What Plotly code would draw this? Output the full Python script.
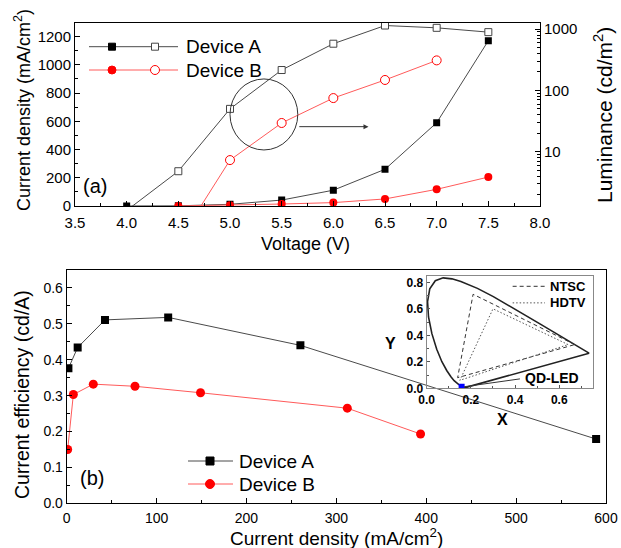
import plotly.graph_objects as go

W, H = 621, 548
FONT = "Arial, Liberation Sans, sans-serif"


def px(x):
    return x / W


def py(y):
    return 1 - y / H


# ---------------- panel (a): J-V and L-V ----------------
volt_a = [4.0, 4.5, 5.0, 5.5, 6.0, 6.5, 7.0, 7.5]
jdens_a = [0.3, 1.3, 12, 42, 112, 260, 590, 1171]
volt_b = [4.5, 5.0, 5.5, 6.0, 6.5, 7.0, 7.5]
jdens_b = [0.3, 5, 14, 24, 50, 118, 205]

lum_volt_a = [4.0, 4.5, 5.0, 5.5, 6.0, 6.5, 7.0, 7.5]
lum_a = [1.1, 4.8, 50, 215, 578, 1145, 1050, 893]
lum_volt_b = [4.5, 5.0, 5.5, 6.0, 6.5, 7.0]
lum_b = [0.34, 7.3, 29.4, 75, 148, 309]

# ---------------- panel (b): efficiency vs current density ----------------
eff_j_a = [1.9, 12.2, 42.6, 112.9, 260, 589]
eff_a = [0.376, 0.434, 0.511, 0.518, 0.440, 0.179]
eff_j_b = [1.1, 7.4, 29.6, 76, 148.9, 312.2, 393.7]
eff_b = [0.150, 0.303, 0.332, 0.326, 0.308, 0.265, 0.193]

# ---------------- inset: CIE 1931 chromaticity ----------------
locus_x = [0.1741, 0.1738, 0.1733, 0.1726, 0.1714, 0.1689, 0.1644, 0.1566, 0.1440,
           0.1241, 0.1096, 0.0913, 0.0687, 0.0454, 0.0235, 0.0082, 0.0039, 0.0139,
           0.0389, 0.0743, 0.1142, 0.1547, 0.2296, 0.3016, 0.3731, 0.4441, 0.5125,
           0.5752, 0.6270, 0.6658, 0.6915, 0.7079, 0.7190, 0.7260, 0.7300, 0.7334,
           0.7347, 0.1741]
locus_y = [0.0050, 0.0049, 0.0048, 0.0048, 0.0051, 0.0069, 0.0109, 0.0177, 0.0297,
           0.0578, 0.0868, 0.1327, 0.2007, 0.2950, 0.4127, 0.5384, 0.6548, 0.7502,
           0.8120, 0.8338, 0.8262, 0.8059, 0.7543, 0.6923, 0.6245, 0.5547, 0.4866,
           0.4242, 0.3725, 0.3340, 0.3083, 0.2920, 0.2809, 0.2740, 0.2700, 0.2666,
           0.2653, 0.0050]
ntsc_x = [0.67, 0.21, 0.14, 0.67]
ntsc_y = [0.33, 0.71, 0.08, 0.33]
hdtv_x = [0.64, 0.30, 0.15, 0.64]
hdtv_y = [0.33, 0.60, 0.06, 0.33]
qd_x = [0.158]
qd_y = [0.012]

BLACK_LINE = "#4a4a4a"
RED = "#ff0000"
RED_LINE = "#ff5a5a"
NTSC_DASH = "4px,3px"
HDTV_DASH = "1.5px,2px"

fig = go.Figure()

# J-V curves (left axis)
fig.add_trace(go.Scatter(x=volt_a, y=jdens_a, mode="lines+markers", xaxis="x", yaxis="y",
                         line=dict(color=BLACK_LINE, width=1),
                         marker=dict(symbol="square", size=7, color="black")))
fig.add_trace(go.Scatter(x=volt_b, y=jdens_b, mode="lines+markers", xaxis="x", yaxis="y",
                         line=dict(color=RED_LINE, width=1),
                         marker=dict(symbol="circle", size=8, color=RED)))
# L-V curves (right log axis)
fig.add_trace(go.Scatter(x=lum_volt_a, y=lum_a, mode="lines+markers", xaxis="x", yaxis="y2",
                         line=dict(color=BLACK_LINE, width=1),
                         marker=dict(symbol="square", size=7, color="white",
                                     line=dict(color="#444", width=1))))
fig.add_trace(go.Scatter(x=lum_volt_b, y=lum_b, mode="lines+markers", xaxis="x", yaxis="y2",
                         line=dict(color=RED_LINE, width=1),
                         marker=dict(symbol="circle", size=9, color="white",
                                     line=dict(color=RED, width=1))))

# efficiency curves
fig.add_trace(go.Scatter(x=eff_j_a, y=eff_a, mode="lines+markers", xaxis="x2", yaxis="y3",
                         line=dict(color=BLACK_LINE, width=1),
                         marker=dict(symbol="square", size=8, color="black")))
fig.add_trace(go.Scatter(x=eff_j_b, y=eff_b, mode="lines+markers", xaxis="x2", yaxis="y3",
                         line=dict(color=RED_LINE, width=1),
                         marker=dict(symbol="circle", size=9, color=RED)))

# CIE inset
fig.add_trace(go.Scatter(x=locus_x, y=locus_y, mode="lines", xaxis="x3", yaxis="y4",
                         line=dict(color="#222", width=1.6)))
fig.add_trace(go.Scatter(x=ntsc_x, y=ntsc_y, mode="lines", xaxis="x3", yaxis="y4",
                         line=dict(color="#333", width=1, dash=NTSC_DASH)))
fig.add_trace(go.Scatter(x=hdtv_x, y=hdtv_y, mode="lines", xaxis="x3", yaxis="y4",
                         line=dict(color="#555", width=1, dash=HDTV_DASH)))
fig.add_trace(go.Scatter(x=qd_x, y=qd_y, mode="markers", xaxis="x3", yaxis="y4",
                         marker=dict(symbol="square", size=6, color="#0000ff")))

tick_font = dict(family=FONT, size=15, color="black")
tick_font_b = dict(family=FONT, size=14, color="black")
inset_tick_font = dict(family=FONT, size=12, color="black", weight="bold")

common = dict(showgrid=False, zeroline=False, showline=True, linecolor="black", linewidth=1,
              ticks="inside", tickcolor="black", ticklen=5, automargin=False)

lum_minor = [m * 10 ** e for e in range(0, 4) for m in range(2, 10)]

fig.update_layout(
    width=W, height=H,
    margin=dict(l=0, r=0, t=0, b=0),
    paper_bgcolor="white", plot_bgcolor="rgba(0,0,0,0)",
    showlegend=False,
    font=dict(family=FONT, color="black"),
    xaxis=dict(**common, domain=[px(75), px(540)], range=[3.5, 8.0], dtick=0.5,
               tickformat=".1f", mirror=True, anchor="y", tickfont=tick_font,
               ticklabelstandoff=3,
               minor=dict(dtick=0.25, ticks="inside", ticklen=3, tickcolor="black")),
    yaxis=dict(**common, domain=[py(206), py(22.5)], range=[0, 1300], dtick=200,
               anchor="x", tickfont=tick_font,
               minor=dict(dtick=100, ticks="inside", ticklen=3, tickcolor="black")),
    yaxis2=dict(**common, type="log", range=[0.114, 3.108], overlaying="y", side="right",
                anchor="x", tickvals=[10, 100, 1000], ticktext=["10", "100", "1000"],
                tickfont=tick_font,
                minor=dict(tickvals=lum_minor, ticks="inside", ticklen=3, tickcolor="black")),
    xaxis2=dict(**common, domain=[px(66.7), px(606)], range=[0, 600], dtick=100,
                mirror=True, anchor="y3", tickfont=tick_font_b, ticklabelstandoff=2,
                minor=dict(dtick=50, ticks="inside", ticklen=3, tickcolor="black")),
    yaxis3=dict(**common, domain=[py(503.3), py(270)], range=[0, 0.65], dtick=0.1,
                tickformat=".1f", mirror=True, anchor="x2", tickfont=tick_font_b,
                minor=dict(dtick=0.05, ticks="inside", ticklen=3, tickcolor="black")),
    xaxis3=dict(showgrid=False, zeroline=False, showline=True, linecolor="#888", linewidth=1,
                ticks="inside", tickcolor="#555", ticklen=3, automargin=False,
                domain=[px(426.7), px(593.3)], range=[0, 0.754], dtick=0.2, tickformat=".1f",
                mirror=True, anchor="y4", tickfont=inset_tick_font,
                minor=dict(dtick=0.1, ticks="inside", ticklen=2, tickcolor="#555")),
    yaxis4=dict(showgrid=False, zeroline=False, showline=True, linecolor="#888", linewidth=1,
                ticks="inside", tickcolor="#555", ticklen=3, automargin=False,
                domain=[py(388.3), py(275.7)], range=[0, 0.85], dtick=0.2, tickformat=".1f",
                mirror=True, anchor="x3", tickfont=inset_tick_font,
                minor=dict(dtick=0.1, ticks="inside", ticklen=2, tickcolor="#555")),
)

shapes = []
annotations = []


def text(x, y, s, size, angle=0, xanchor="center", bold=False, ref=("paper", "paper")):
    annotations.append(dict(x=x, y=y, xref=ref[0], yref=ref[1], text=s, showarrow=False,
                            textangle=angle, xanchor=xanchor, yanchor="middle",
                            font=dict(family=FONT, size=size, color="black",
                                      weight="bold" if bold else "normal")))


def hline(x0, x1, y, color, dash="solid", width=1, ref=("paper", "paper")):
    shapes.append(dict(type="line", xref=ref[0], yref=ref[1], x0=x0, x1=x1, y0=y, y1=y,
                       line=dict(color=color, width=width, dash=dash)))


def glyph(cx, cy, kind, size, fill, edge):
    shapes.append(dict(type="rect" if kind == "square" else "circle",
                       xref="paper", yref="paper", xsizemode="pixel", ysizemode="pixel",
                       xanchor=px(cx), yanchor=py(cy),
                       x0=-size / 2, x1=size / 2, y0=-size / 2, y1=size / 2,
                       fillcolor=fill, line=dict(color=edge, width=1)))


# axis titles
text(px(22), py(110), "Current density (mA/cm<sup>2</sup>)", 18, angle=-90)
text(px(603), py(115), "Luminance (cd/m<sup>2</sup>)", 21, angle=-90)
text(px(305), py(244), "Voltage (V)", 18)
text(px(336), py(537), "Current density (mA/cm<sup>2</sup>)", 19)
text(px(22), py(395), "Current efficiency (cd/A)", 19.5, angle=-90)

# panel labels
text(px(95), py(186), "(a)", 20)
text(px(92), py(478), "(b)", 20)

# panel (a) legend
hline(px(89), px(178), py(46.7), BLACK_LINE)
glyph(112, 46.7, "square", 7, "black", "black")
glyph(155, 46.7, "square", 7, "white", "#444")
text(px(184), py(46.7), "Device A", 19, xanchor="left")
hline(px(89), px(178), py(70), RED_LINE)
glyph(112, 70, "circle", 8, RED, RED)
glyph(155, 70, "circle", 9, "white", RED)
text(px(184), py(70), "Device B", 19, xanchor="left")

# panel (b) legend
hline(px(188), px(233), py(461), BLACK_LINE)
glyph(210, 461, "square", 8, "black", "black")
text(px(237), py(461), "Device A", 19, xanchor="left")
hline(px(188), px(233), py(484), RED_LINE)
glyph(210, 484, "circle", 9, RED, RED)
text(px(237), py(484), "Device B", 19, xanchor="left")

# circle marking the luminance curves, with arrow to the right axis
shapes.append(dict(type="circle", xref="x", yref="y", x0=5.0, x1=5.656, y0=397, y1=900,
                   line=dict(color="#333", width=1)))
annotations.append(dict(x=6.34, y=562, ax=5.656, ay=562, xref="x", yref="y",
                        axref="x", ayref="y", text="", showarrow=True, arrowhead=2,
                        arrowsize=1, arrowwidth=1, arrowcolor="#333"))

# inset legend and labels
hline(0.389, 0.535, 0.77, "#333", dash=NTSC_DASH, width=1, ref=("x3", "y4"))
text(0.549, 0.77, "NTSC", 13, xanchor="left", bold=True, ref=("x3", "y4"))
hline(0.389, 0.535, 0.645, "#555", dash=HDTV_DASH, width=1, ref=("x3", "y4"))
text(0.549, 0.645, "HDTV", 13, xanchor="left", bold=True, ref=("x3", "y4"))
shapes.append(dict(type="line", xref="x3", yref="y4", x0=0.17, y0=0.012, x1=0.422, y1=0.071,
                   line=dict(color="#333", width=1)))
text(0.435, 0.075, "QD-LED", 14, xanchor="left", bold=True, ref=("x3", "y4"))
text(px(390), py(343), "Y", 16, bold=True)
text(px(502), py(419), "X", 16, bold=True)

fig.update_layout(shapes=shapes, annotations=annotations)

fig.write_html("out.html")
